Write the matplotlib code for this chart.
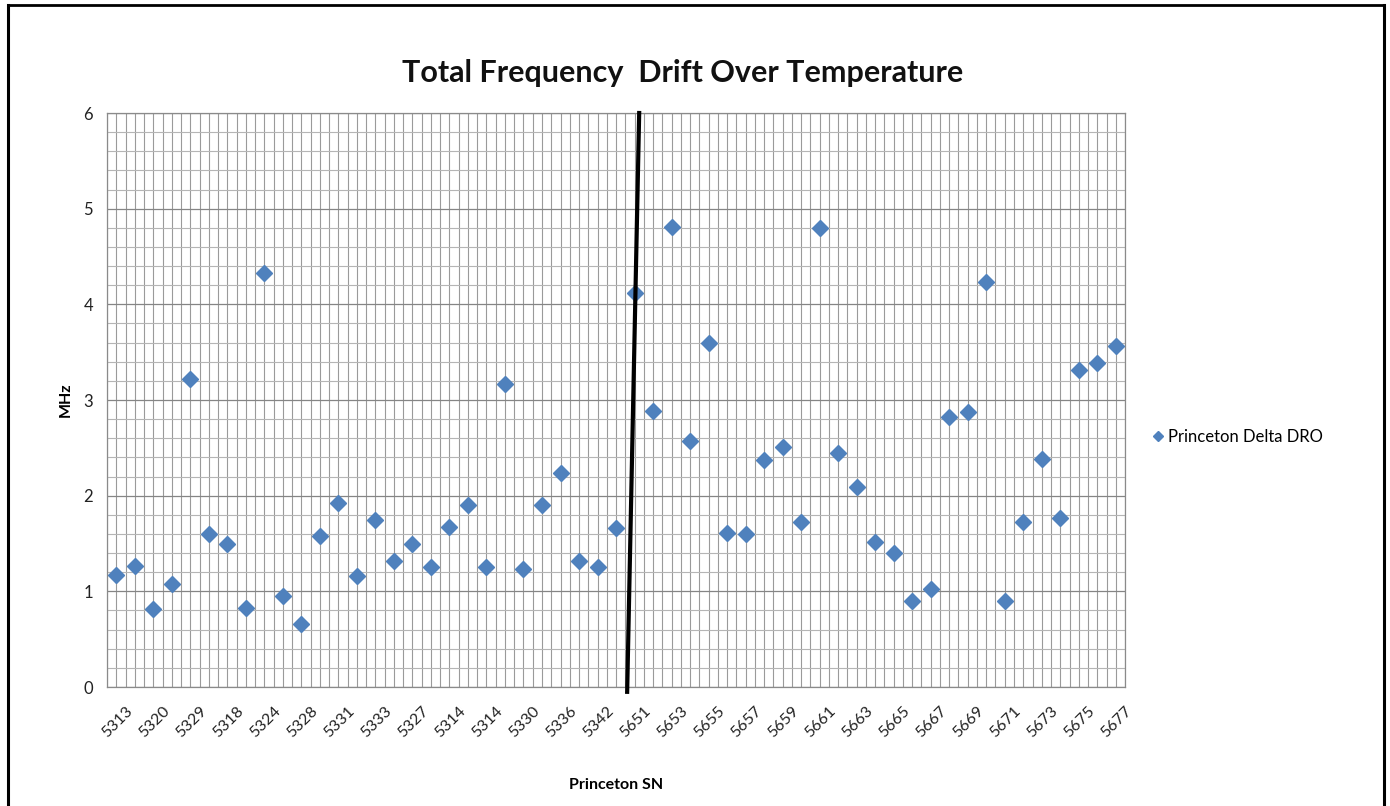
import numpy as np
import matplotlib
matplotlib.use("Agg")
import matplotlib.pyplot as plt
import matplotlib.transforms as mtransforms
from matplotlib.lines import Line2D
from matplotlib.ticker import MultipleLocator

plt.rcParams["font.family"] = ["Lato", "DejaVu Sans"]

# ------------------------------------------------------------
# Data
# ------------------------------------------------------------
tick_labels = ["5313", "5320", "5329", "5318", "5324", "5328", "5331",
               "5333", "5327", "5314", "5314", "5330", "5336", "5342",
               "5651", "5653", "5655", "5657", "5659", "5661", "5663",
               "5665", "5667", "5669", "5671", "5673", "5675", "5677"]

drift_mhz = [1.17, 1.26, 0.82, 1.08, 3.22, 1.60, 1.50, 0.83, 4.33, 0.95,
             0.66, 1.58, 1.92, 1.16, 1.75, 1.32, 1.50, 1.25, 1.67, 1.90,
             1.25, 3.17, 1.23, 1.90, 2.24, 1.32, 1.25, 1.66, 4.12, 2.88,
             4.81, 2.57, 3.60, 1.61, 1.60, 2.37, 2.51, 1.72, 4.80, 2.45,
             2.09, 1.52, 1.40, 0.90, 1.02, 2.82, 2.87, 4.23, 0.90, 1.72,
             2.38, 1.77, 3.31, 3.39, 3.56]

# hand-drawn divider between the two SN batches (category units, MHz)
divider_x = [28.75, 28.10]
divider_y = [6.0, -0.05]

series_name = "Princeton Delta DRO"
BLUE = "#4F81BD"

# ------------------------------------------------------------
# Figure
# ------------------------------------------------------------
fig = plt.figure(figsize=(13.9, 8.06), dpi=100)
ax = fig.add_axes([0.0770, 0.1476, 0.7324, 0.7122])

n = len(drift_mhz)
xpos = np.arange(n) + 0.5

# grid: vertical every half category, horizontal major 1 / minor 0.2
for xv in np.arange(0, n + 0.01, 0.5):
    ax.axvline(xv, color="#9a9a9a", lw=0.8, zorder=0)
ax.yaxis.set_major_locator(MultipleLocator(1))
ax.yaxis.set_minor_locator(MultipleLocator(0.2))
ax.grid(which="major", axis="y", color="#858585", lw=0.9, zorder=0)
ax.grid(which="minor", axis="y", color="#b5b5b5", lw=0.8, zorder=0)

ax.plot(xpos, drift_mhz, ls="none", marker="D", ms=8.5, color=BLUE,
        label=series_name, zorder=3)
ax.plot(divider_x, divider_y, color="black", lw=3, clip_on=False, zorder=4)

ax.set_xlim(0, n)
ax.set_ylim(0, 6)
ax.set_xticks(xpos[::2])
ax.set_xticklabels(tick_labels, rotation=45, ha="right", rotation_mode="anchor",
                   fontsize=11.5, color="#222222")
ax.tick_params(axis="x", length=0, pad=12)
ax.tick_params(axis="y", which="both", length=0, labelsize=12,
               labelcolor="#222222", pad=10)
# nudge the slanted labels right so they sit under their category
shift = mtransforms.ScaledTranslation(9 / 100, 0, fig.dpi_scale_trans)
for lab in ax.xaxis.get_majorticklabels():
    lab.set_transform(lab.get_transform() + shift)
for s in ax.spines.values():
    s.set_color("#8a8a8a")
    s.set_linewidth(0.9)

ax.set_ylabel("MHz", fontsize=11.5, fontweight="bold", labelpad=8)
ax.set_xlabel("Princeton SN", fontsize=11.5, fontweight="bold")
ax.xaxis.set_label_coords(0.5, -0.158)

fig.text(0.491, 0.909, "Total Frequency  Drift Over Temperature",
         ha="center", va="center", fontsize=22, fontweight="bold",
         color="#111111")

fig.legend(loc="center left", bbox_to_anchor=(0.8187, 0.4578), frameon=False,
           fontsize=12, handlelength=0.6, handletextpad=0.3, markerscale=0.6)

# outer frame (page border)
for xs, ys, lw in [([0.0058, 0.9957], [0.9938, 0.9938], 2.0),
                   ([0.0058, 0.0058], [0.0, 0.9938], 2.2),
                   ([0.9957, 0.9957], [0.0, 0.9938], 2.2)]:
    fig.add_artist(Line2D(xs, ys, transform=fig.transFigure, color="black", lw=lw))

fig.savefig("out.png", dpi=100, facecolor="white")
